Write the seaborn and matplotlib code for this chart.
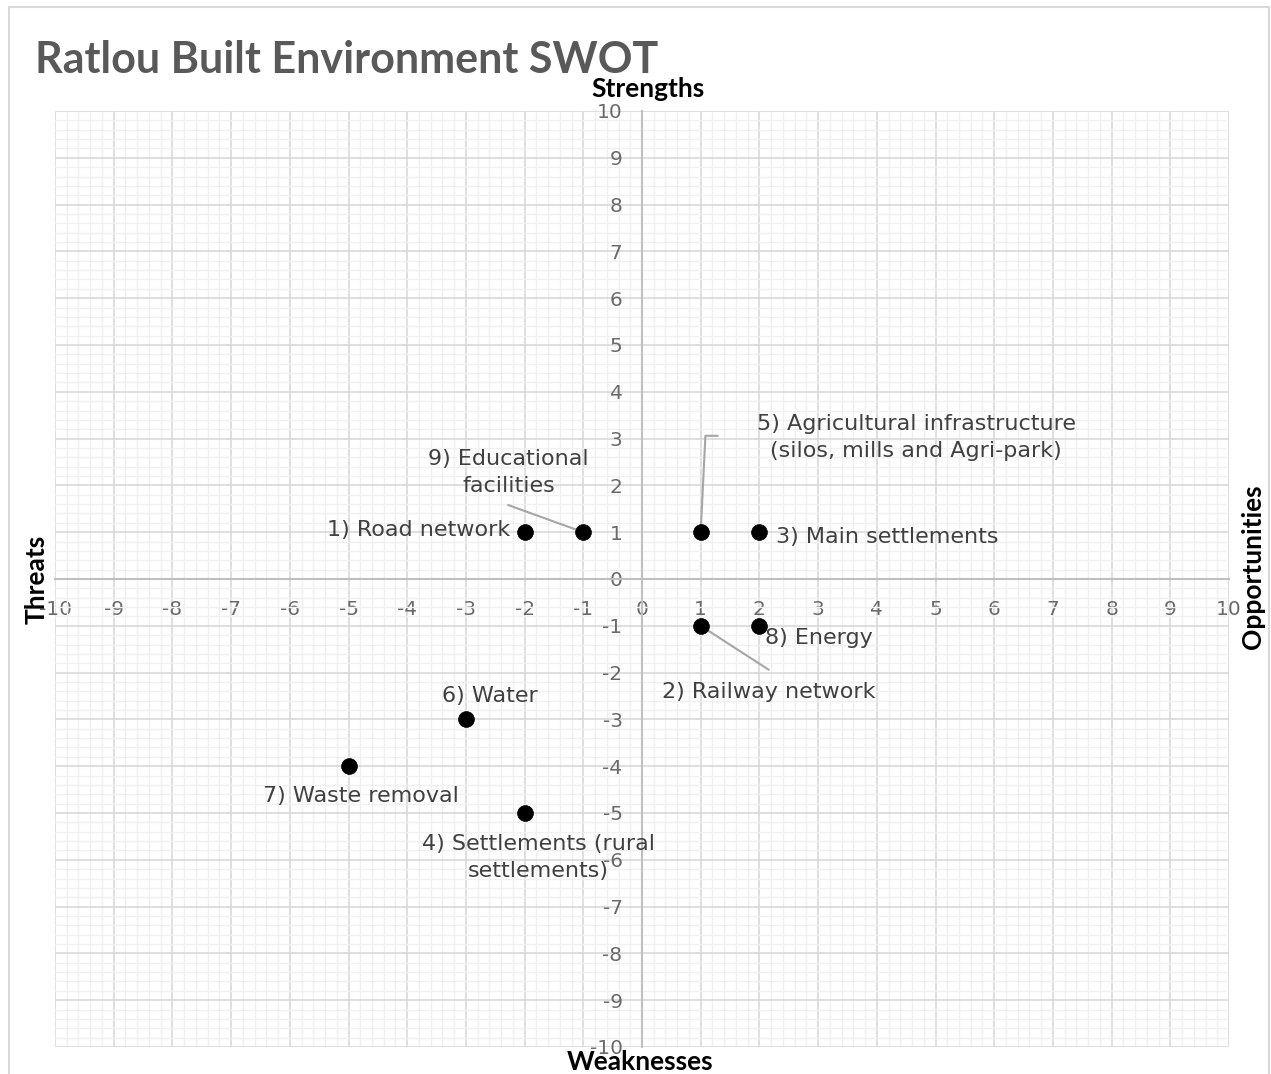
import matplotlib.pyplot as plt
import matplotlib.patches as mpatches
from matplotlib.ticker import MultipleLocator
import seaborn as sns
import pandas as pd

labels = ["1) Road network", "2) Railway network", "3) Main settlements",
          "4) Settlements (rural\nsettlements)", "5) Agricultural infrastructure\n(silos, mills and Agri-park)",
          "6) Water", "7) Waste removal", "8) Energy", "9) Educational\nfacilities"]
xs = [-2, 1, 2, -2, 1, -3, -5, 2, -1]
ys = [1, -1, 1, -5, 1, -3, -4, -1, 1]

# label anchor (data coords) and alignment
lab_x = [-2.25, 2.16, 2.28, -1.77, 4.67, -2.6, -4.79, 2.1, -2.27]
lab_y = [1.05, -2.41, 0.9, -5.95, 3.02, -2.5, -4.64, -1.26, 2.28]
lab_ha = ["right", "center", "left", "center", "center", "center", "center", "left", "center"]

df = pd.DataFrame({"x": xs, "y": ys, "label": labels})

sns.set_theme(style="white")
plt.rcParams['font.family'] = ['Lato', 'DejaVu Sans']
plt.rcParams['axes.unicode_minus'] = False

fig = plt.figure(figsize=(12.71, 10.74), dpi=100)
fig.patches.append(mpatches.Rectangle((9/1271, -0.01), 1260/1271, 1.01 - 7/1074,
                                      transform=fig.transFigure, fill=False,
                                      edgecolor='#d9d9d9', linewidth=1.5))
ax = fig.add_axes([55/1271, 27/1074, 1174/1271, 936/1074])

ax.set_xlim(-10, 10)
ax.set_ylim(-10, 10)
ax.xaxis.set_major_locator(MultipleLocator(1))
ax.yaxis.set_major_locator(MultipleLocator(1))
ax.xaxis.set_minor_locator(MultipleLocator(0.2))
ax.yaxis.set_minor_locator(MultipleLocator(0.2))
ax.grid(which='major', color='#d9d9d9', linewidth=1.2)
ax.grid(which='minor', color='#f0f0f0', linewidth=1.0)
ax.set_axisbelow(True)

for s in ['top', 'right']:
    ax.spines[s].set_visible(False)
ax.spines['left'].set_position(('data', 0))
ax.spines['bottom'].set_position(('data', 0))
for s in ['left', 'bottom']:
    ax.spines[s].set_color('#bfbfbf')
    ax.spines[s].set_linewidth(1.5)

ax.tick_params(axis='both', which='both', length=0, labelsize=14.5, labelcolor='#6a6a6a')
ax.tick_params(axis='x', pad=15)
ax.tick_params(axis='y', pad=14)
for t in ax.get_xticklabels() + ax.get_yticklabels():
    t.set_fontfamily(['DejaVu Sans'])

sns.scatterplot(data=df, x='x', y='y', color='black', s=130, edgecolor='black',
                linewidth=0.5, ax=ax, zorder=5, clip_on=False)
ax.set_xlabel('')
ax.set_ylabel('')

for lab, lx, ly, ha in zip(labels, lab_x, lab_y, lab_ha):
    ax.text(lx, ly, lab, ha=ha, va='center', fontsize=16, color='#404040',
            family=['DejaVu Sans'], linespacing=1.45, zorder=6)

# leader lines
ax.plot([-1, -2.28], [1, 1.58], color='#a6a6a6', lw=1.5, zorder=4)
ax.plot([1, 1.08, 1.29], [1, 3.06, 3.06], color='#a6a6a6', lw=1.5, zorder=4)
ax.plot([1, 2.16], [-1, -1.94], color='#a6a6a6', lw=1.5, zorder=4)

# axis titles
fig.text(648/1271, 1 - 89/1074, 'Strengths', ha='center', va='center', fontsize=19,
         fontweight='bold', color='black')
fig.text(640/1271, 1 - 1062/1074, 'Weaknesses', ha='center', va='center', fontsize=19,
         fontweight='bold', color='black')
fig.text(37/1271, 1 - 579/1074, 'Threats', ha='center', va='center', fontsize=19,
         fontweight='bold', color='black', rotation=90)
fig.text(1253/1271, 1 - 567/1074, 'Opportunities', ha='center', va='center', fontsize=19,
         fontweight='bold', color='black', rotation=90)

fig.text(35/1271, 1 - 60/1074, 'Ratlou Built Environment SWOT', ha='left', va='center',
         fontsize=31, fontweight='bold', color='#595959')

fig.savefig('out.png', dpi=100)
